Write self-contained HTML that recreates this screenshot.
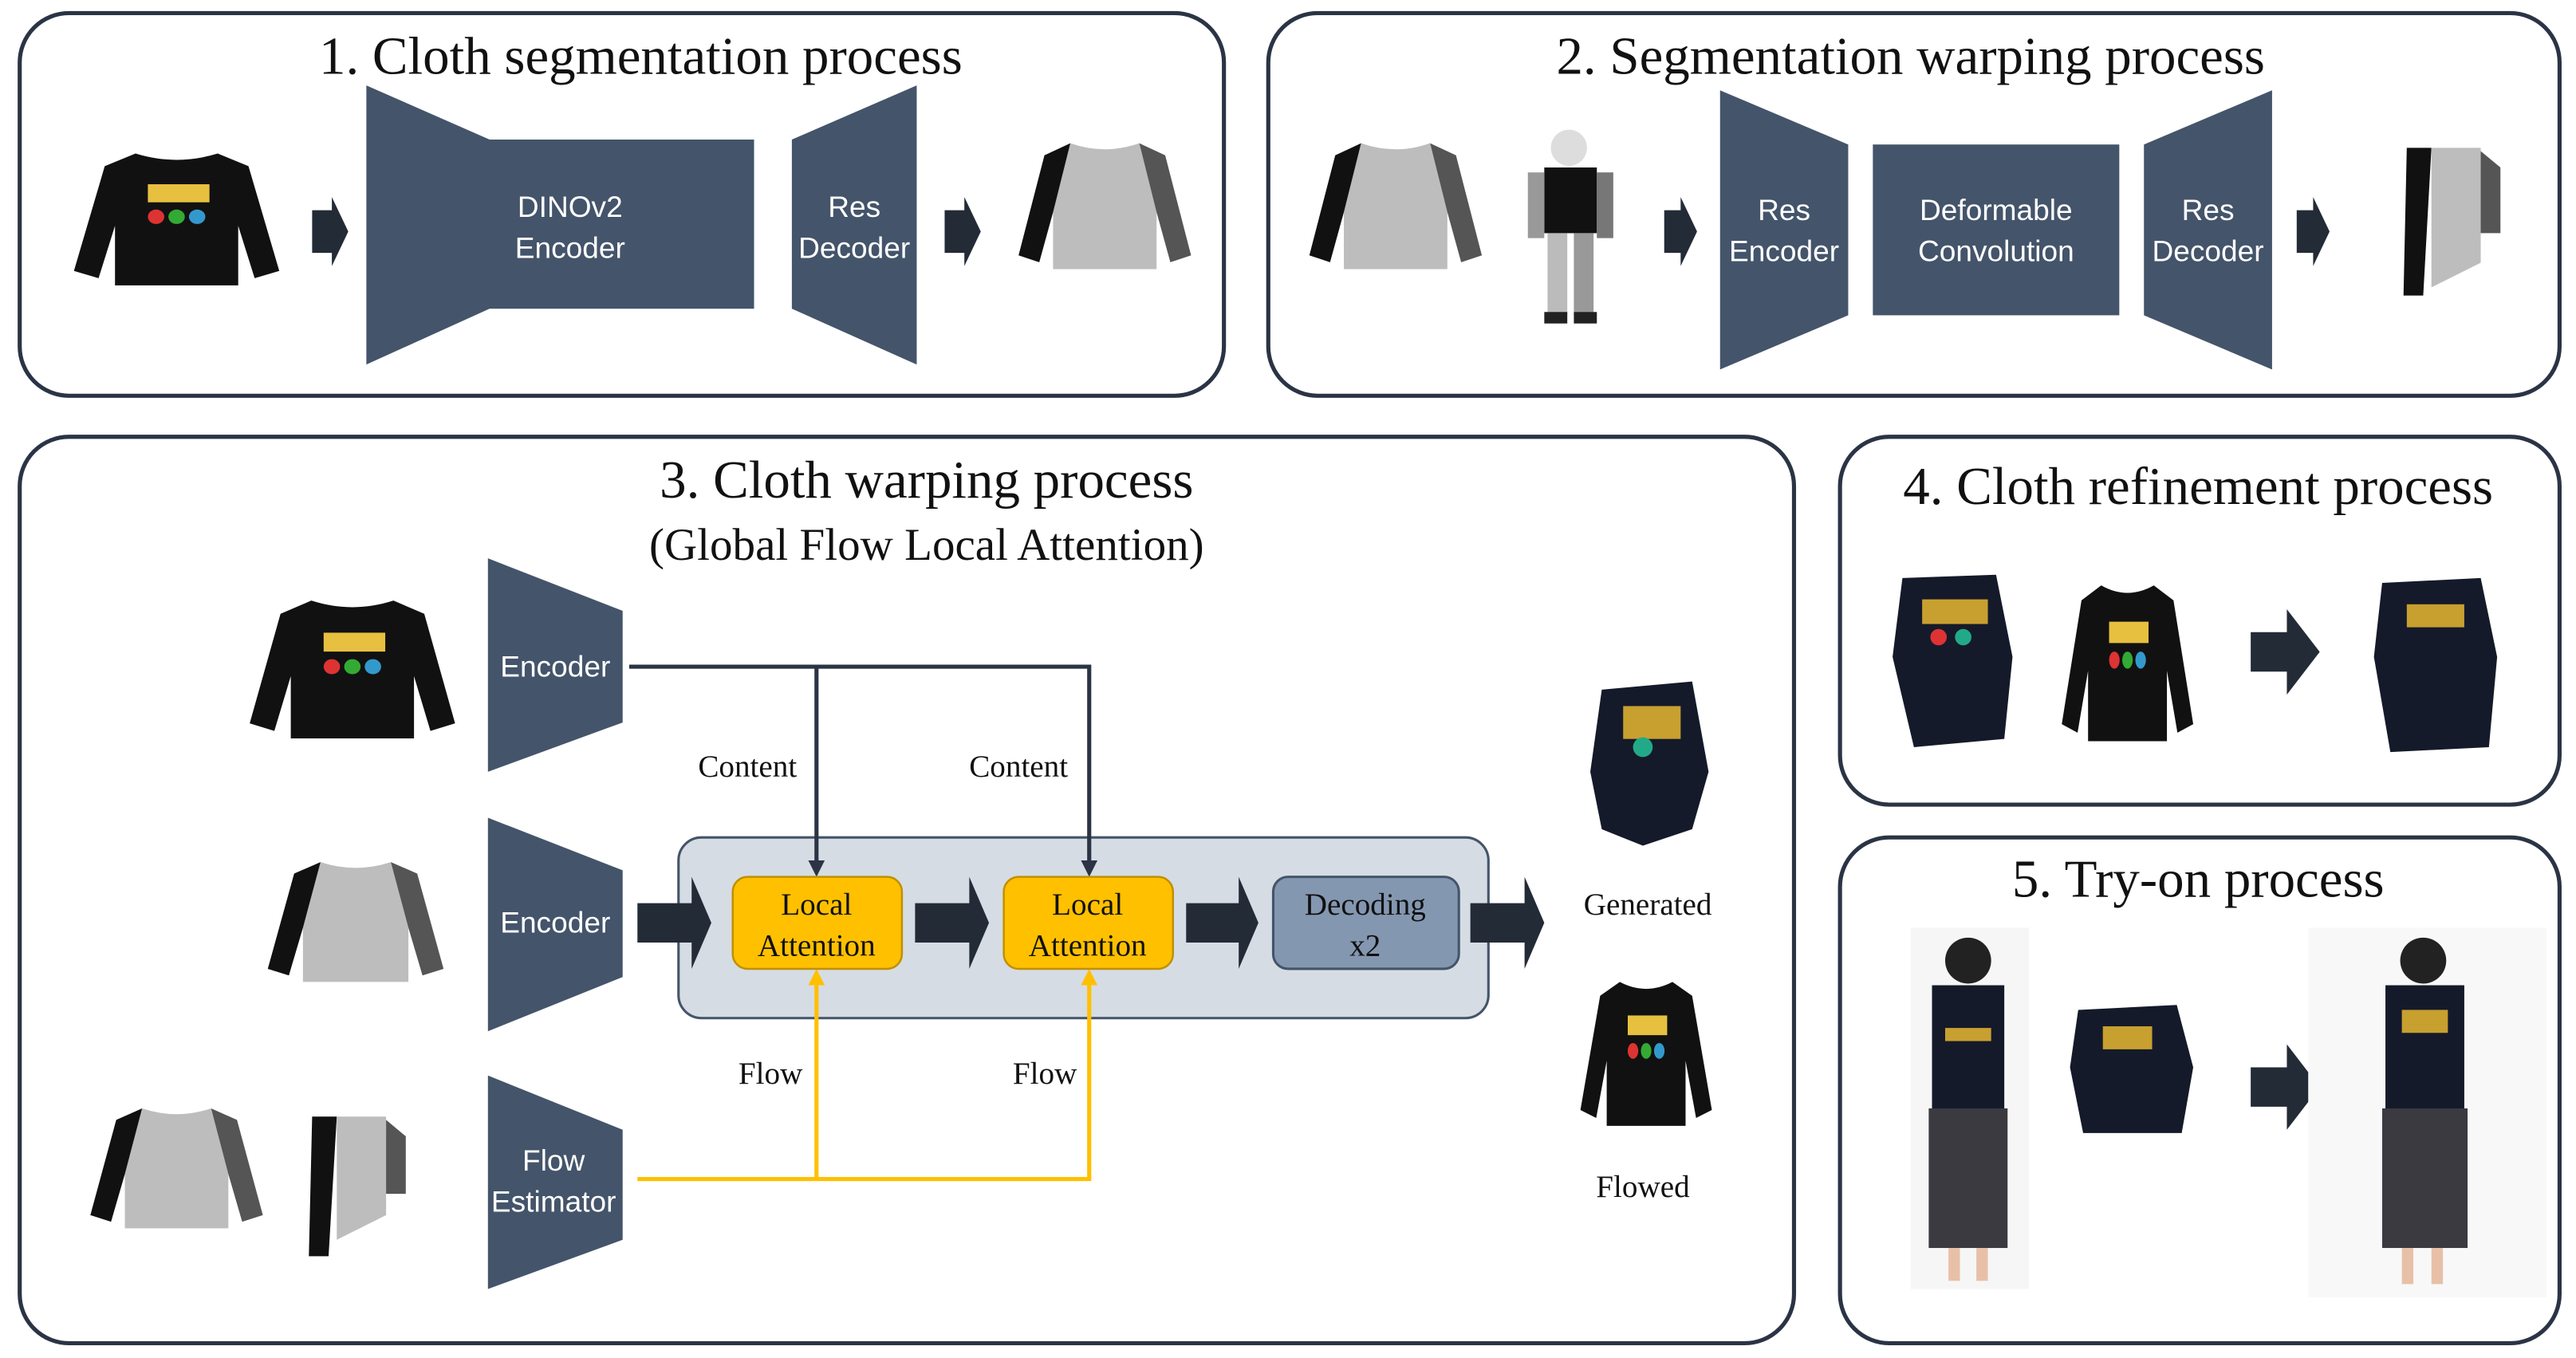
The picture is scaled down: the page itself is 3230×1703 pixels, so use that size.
<!DOCTYPE html>
<html><head><meta charset="utf-8"><style>html,body{margin:0;padding:0;background:#fff}svg{display:block}</style></head>
<body>
<svg width="3230" height="1703" viewBox="0 0 1568 827" preserveAspectRatio="none" xmlns="http://www.w3.org/2000/svg">
<defs>
<g id="sw"><path d="M30,5 Q50,12 70,5 L85,12 L100,70 L88,74 L80,45 L80,78 L20,78 L20,45 L12,74 L0,70 L15,12 Z"/></g>
<g id="seg">
<path d="M30,5 Q50,12 70,5 L80,45 L80,78 L20,78 L20,45 Z" fill="#bdbdbd"/>
<path d="M15,12 L30,5 L20,45 L12,74 L0,70 Z" fill="#111"/>
<path d="M85,12 L70,5 L80,45 L88,74 L100,70 Z" fill="#555"/>
</g>
<g id="logo"><rect x="36" y="22" width="30" height="10" fill="#e8c040"/><circle cx="40" cy="40" r="4" fill="#d33"/><circle cx="50" cy="40" r="4" fill="#3a3"/><circle cx="60" cy="40" r="4" fill="#39c"/></g>
</defs>
<style>
.p{fill:#fff;stroke:#2a3444;stroke-width:2.5}
.t{font-family:"Liberation Serif",serif;font-size:32.5px;fill:#111;text-anchor:middle}
.w{font-family:"Liberation Sans",sans-serif;font-size:18px;fill:#fff;text-anchor:middle}
.s{font-family:"Liberation Serif",serif;font-size:19px;fill:#111;text-anchor:middle}
.b{fill:#44546a}
.ar{fill:#232b37}
</style>
<rect class="p" x="12" y="8" width="733" height="233" rx="30"/>
<rect class="p" x="772" y="8" width="786" height="233" rx="30"/>
<rect class="p" x="12" y="266" width="1080" height="552" rx="30"/>
<rect class="p" x="1120" y="266" width="438" height="224" rx="30"/>
<rect class="p" x="1120" y="510" width="438" height="308" rx="30"/>

<text class="t" x="390" y="45">1. Cloth segmentation process</text>
<text class="t" x="1163" y="45">2. Segmentation warping process</text>
<text class="t" x="564" y="303">3. Cloth warping process</text>
<text class="s" x="564" y="341" style="font-size:27.7px">(Global Flow Local Attention)</text>
<text class="t" x="1338" y="307">4. Cloth refinement process</text>
<text class="t" x="1338" y="546">5. Try-on process</text>

<g transform="translate(45,88) scale(1.25,1.1)" fill="#111"><use href="#sw"/><use href="#logo"/></g>
<path class="ar" d="M190,128 h12 v-8 l10,21 l-10,21 v-8 h-12 Z"/>
<path class="b" d="M223,52 L298,85 L459,85 L459,188 L298,188 L223,222 Z"/>
<text class="w" x="347" y="132">DINOv2</text><text class="w" x="347" y="157">Encoder</text>
<path class="b" d="M482,85 L558,52 L558,222 L482,188 Z"/>
<text class="w" x="520" y="132">Res</text><text class="w" x="520" y="157">Decoder</text>
<path class="ar" d="M575,128 h12 v-8 l10,21 l-10,21 v-8 h-12 Z"/>
<g transform="translate(620,82) scale(1.05,1.05)"><use href="#seg"/></g>

<g transform="translate(797,82) scale(1.05,1.05)"><use href="#seg"/></g>
<g>
<circle cx="955" cy="90" r="11" fill="#ddd"/>
<rect x="940" y="102" width="32" height="40" fill="#111"/>
<rect x="930" y="105" width="10" height="40" fill="#999"/>
<rect x="972" y="105" width="10" height="40" fill="#777"/>
<rect x="942" y="142" width="12" height="50" fill="#bbb"/>
<rect x="958" y="142" width="12" height="50" fill="#999"/>
<rect x="940" y="190" width="14" height="7" fill="#222"/><rect x="958" y="190" width="14" height="7" fill="#222"/>
</g>
<path class="ar" d="M1013,128 h10 v-8 l10,21 l-10,21 v-8 h-10 Z"/>
<path class="b" d="M1047,55 L1125,88 L1125,192 L1047,225 Z"/>
<text class="w" x="1086" y="134">Res</text><text class="w" x="1086" y="159">Encoder</text>
<rect class="b" x="1140" y="88" width="150" height="104"/>
<text class="w" x="1215" y="134">Deformable</text><text class="w" x="1215" y="159">Convolution</text>
<path class="b" d="M1305,88 L1383,55 L1383,225 L1305,192 Z"/>
<text class="w" x="1344" y="134">Res</text><text class="w" x="1344" y="159">Decoder</text>
<path class="ar" d="M1398,128 h10 v-8 l10,21 l-10,21 v-8 h-10 Z"/>
<path d="M1465,90 h15 l-5,90 h-12 Z" fill="#111"/><path d="M1480,90 h30 v70 l-30,15 Z" fill="#bdbdbd"/><path d="M1510,92 l12,10 v40 h-12 Z" fill="#555"/>

<g transform="translate(152,360) scale(1.25,1.15)" fill="#111"><use href="#sw"/><use href="#logo"/></g>
<g transform="translate(163,520) scale(1.07,1.0)"><use href="#seg"/></g>
<g transform="translate(55,670) scale(1.05,1.0)"><use href="#seg"/></g>
<path d="M190,680 h15 l-5,85 h-12 Z" fill="#111"/><path d="M205,680 h30 v60 l-30,15 Z" fill="#bdbdbd"/><path d="M235,682 l12,10 v35 h-12 Z" fill="#555"/>

<path class="b" d="M297,340 L379,372 L379,440 L297,470 Z"/><text class="w" x="338" y="412">Encoder</text>
<path class="b" d="M297,498 L379,530 L379,595 L297,628 Z"/><text class="w" x="338" y="568">Encoder</text>
<path class="b" d="M297,655 L379,688 L379,755 L297,785 Z"/><text class="w" x="337" y="713">Flow</text><text class="w" x="337" y="738">Estimator</text>

<rect x="413" y="510" width="493" height="110" rx="14" fill="#d6dce4" stroke="#44546a" stroke-width="1.5"/>
<path d="M383,406 H663 V530 M497,406 V530" fill="none" stroke="#2a3444" stroke-width="2.5"/>
<path d="M492,524 h10 l-5,10 Z M658,524 h10 l-5,10 Z" fill="#2a3444"/>
<text class="s" x="455" y="473">Content</text><text class="s" x="620" y="473">Content</text>

<path d="M388,718 H663 V596 M497,718 V596" fill="none" stroke="#ffc000" stroke-width="2.5"/>
<path d="M492,600 h10 l-5,-10 Z M658,600 h10 l-5,-10 Z" fill="#ffc000"/>
<text class="s" x="469" y="660">Flow</text><text class="s" x="636" y="660">Flow</text>

<rect x="446" y="534" width="103" height="56" rx="9" fill="#ffc000" stroke="#bf9000" stroke-width="1.2"/>
<text class="s" x="497" y="557">Local</text><text class="s" x="497" y="582">Attention</text>
<rect x="611" y="534" width="103" height="56" rx="9" fill="#ffc000" stroke="#bf9000" stroke-width="1.2"/>
<text class="s" x="662" y="557">Local</text><text class="s" x="662" y="582">Attention</text>
<rect x="775" y="534" width="113" height="56" rx="9" fill="#8497b0" stroke="#44546a" stroke-width="1.5"/>
<text class="s" x="831" y="557">Decoding</text><text class="s" x="831" y="582">x2</text>

<path class="ar" d="M388,550 h33 v-16 l12,28 l-12,28 v-16 h-33 Z"/>
<path class="ar" d="M557,550 h33 v-16 l12,28 l-12,28 v-16 h-33 Z"/>
<path class="ar" d="M722,550 h32 v-16 l12,28 l-12,28 v-16 h-32 Z"/>
<path class="ar" d="M895,550 h33 v-16 l12,28 l-12,28 v-16 h-33 Z"/>

<path d="M975,420 L1030,415 L1040,470 L1030,505 L1000,515 L975,505 L968,470 Z" fill="#151a2a"/>
<rect x="988" y="430" width="35" height="20" fill="#c8a030"/><circle cx="1000" cy="455" r="6" fill="#2a8"/>
<g transform="translate(962,592) scale(0.8,1.2)" fill="#111"><use href="#sw"/><use href="#logo"/></g>
<text class="s" x="1003" y="557">Generated</text><text class="s" x="1000" y="729">Flowed</text>

<path d="M1158,352 L1215,350 L1225,400 L1220,450 L1165,455 L1152,400 Z" fill="#151a2a"/><rect x="1170" y="365" width="40" height="15" fill="#c8a030"/><circle cx="1180" cy="388" r="5" fill="#d33"/><circle cx="1195" cy="388" r="5" fill="#2a8"/>
<g transform="translate(1255,350) scale(0.8,1.3)" fill="#111"><use href="#sw"/><use href="#logo"/></g>
<path class="ar" d="M1370,385 h22 v-14 l20,26 l-20,26 v-14 h-22 Z"/>
<path d="M1450,355 L1510,352 L1520,400 L1515,455 L1455,458 L1445,400 Z" fill="#151a2a"/><rect x="1465" y="368" width="35" height="14" fill="#c8a030"/>

<rect x="1163" y="565" width="72" height="220" fill="#f6f6f6"/>
<circle cx="1198" cy="585" r="14" fill="#222"/><rect x="1176" y="600" width="44" height="75" fill="#151a2a"/><rect x="1184" y="626" width="28" height="8" fill="#c8a030"/>
<rect x="1174" y="675" width="48" height="85" fill="#3a3a40"/><rect x="1186" y="760" width="7" height="20" fill="#e8c0a8"/><rect x="1203" y="760" width="7" height="20" fill="#e8c0a8"/>
<path d="M1265,615 L1325,612 L1335,650 L1328,690 L1268,690 L1260,650 Z" fill="#151a2a"/><rect x="1280" y="625" width="30" height="14" fill="#c8a030"/>
<path class="ar" d="M1370,650 h22 v-14 l20,26 l-20,26 v-14 h-22 Z"/>
<rect x="1405" y="565" width="145" height="225" fill="#f8f8f8"/>
<circle cx="1475" cy="585" r="14" fill="#222"/><rect x="1452" y="600" width="48" height="75" fill="#151a2a"/><rect x="1462" y="615" width="28" height="14" fill="#c8a030"/>
<rect x="1450" y="675" width="52" height="85" fill="#3a3a40"/><rect x="1462" y="760" width="7" height="22" fill="#e8c0a8"/><rect x="1480" y="760" width="7" height="22" fill="#e8c0a8"/>
</svg>
</body></html>
